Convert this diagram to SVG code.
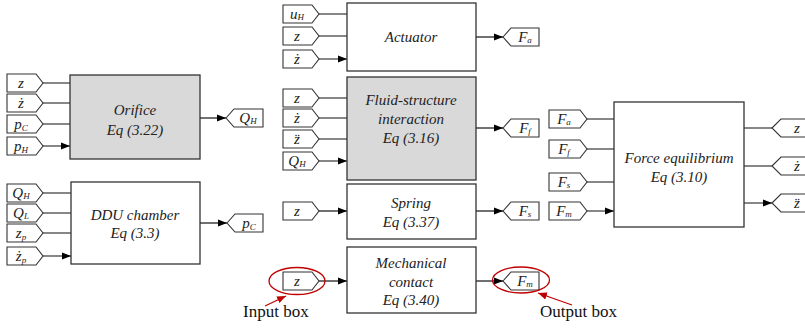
<svg xmlns="http://www.w3.org/2000/svg" width="805" height="328" viewBox="0 0 805 328">
<style>
.blk{fill:#fff;stroke:#333;stroke-width:1.3}
.gry{fill:#d9d9d9;stroke:#333;stroke-width:1.3}
.tag{fill:#fff;stroke:#333;stroke-width:1.1}
.ln{stroke:#111;stroke-width:1.2;fill:none;marker-end:url(#ah)}
.bt{font-family:"Liberation Serif",serif;font-style:italic;font-size:15px;fill:#222;text-anchor:middle}
.tt{font-family:"Liberation Serif",serif;font-style:italic;font-size:15px;fill:#222;text-anchor:middle}
.sb{font-size:9px}
.red{fill:none;stroke:#c00000;stroke-width:1.3}
.rl{stroke:#c00000;stroke-width:1.3;fill:none;marker-end:url(#rh)}
.an{font-family:"Liberation Serif",serif;font-size:17px;fill:#111}
</style>
<defs>
<marker id="ah" viewBox="0 0 10 10" refX="10" refY="5" markerWidth="9" markerHeight="9" markerUnits="userSpaceOnUse" orient="auto"><path d="M0,1 L10,5 L0,9 Z" fill="#000"/></marker>
<marker id="rh" viewBox="0 0 10 10" refX="10" refY="5" markerWidth="9" markerHeight="9" markerUnits="userSpaceOnUse" orient="auto"><path d="M0,1 L10,5 L0,9 Z" fill="#c00000"/></marker>
</defs>

<g id="connectors">
<path class="ln" d="M43,83H70M43,103H70M43,124H70M43,146H70"/>
<path class="ln" d="M200,118H226"/>
<path class="ln" d="M43,193H71M43,213H71M43,233H71M43,256H71"/>
<path class="ln" d="M200,223H227"/>
<path class="ln" d="M319,14H347M319,36H347M319,59H347"/>
<path class="ln" d="M476,37H503"/>
<path class="ln" d="M319,98H347M319,118H347M319,139H347M319,161H347"/>
<path class="ln" d="M476,128H503"/>
<path class="ln" d="M319,211H347"/>
<path class="ln" d="M476,211H503"/>
<path class="ln" d="M319,281H347"/>
<path class="ln" d="M476,281H503"/>
<path class="ln" d="M587,119H614M587,149H614M587,182H614M587,211H614"/>
<path class="ln" d="M744,128H772M744,166H772M744,203H772"/>
</g>

<g id="orifice">
<rect class="gry" x="70" y="75" width="130" height="84"/>
<text class="bt" x="135" y="115">Orifice</text>
<text class="bt" x="135" y="135">Eq (3.22)</text>
<path class="tag" d="M7,74H36L43,83L36,92H7Z"/><text class="tt" x="21" y="88">z</text>
<path class="tag" d="M7,94H36L43,103L36,112H7Z"/><text class="tt" x="21" y="108">ż</text>
<path class="tag" d="M7,115H36L43,124L36,133H7Z"/><text class="tt" x="21" y="129">p<tspan class="sb" dy="2">C</tspan></text>
<path class="tag" d="M7,137H36L43,146L36,155H7Z"/><text class="tt" x="21" y="151">p<tspan class="sb" dy="2">H</tspan></text>
<path class="tag" d="M226,118L234,109H263V127H234Z"/><text class="tt" x="248" y="123">Q<tspan class="sb" dy="1">H</tspan></text>
</g>

<g id="ddu">
<rect class="blk" x="71" y="182" width="129" height="82"/>
<text class="bt" x="135" y="220">DDU chamber</text>
<text class="bt" x="135" y="238">Eq (3.3)</text>
<path class="tag" d="M7,184H36L43,193L36,202H7Z"/><text class="tt" x="21" y="198">Q<tspan class="sb" dy="1">H</tspan></text>
<path class="tag" d="M7,204H36L43,213L36,222H7Z"/><text class="tt" x="21" y="218">Q<tspan class="sb" dy="1">L</tspan></text>
<path class="tag" d="M7,224H36L43,233L36,242H7Z"/><text class="tt" x="21" y="238">z<tspan class="sb" dy="2">p</tspan></text>
<path class="tag" d="M7,247H36L43,256L36,265H7Z"/><text class="tt" x="21" y="261">ż<tspan class="sb" dy="2">p</tspan></text>
<path class="tag" d="M227,223L235,214H263V232H235Z"/><text class="tt" x="249" y="228">p<tspan class="sb" dy="2">C</tspan></text>
</g>

<g id="actuator">
<rect class="blk" x="347" y="3" width="129" height="68"/>
<text class="bt" x="411" y="42">Actuator</text>
<path class="tag" d="M283,5H312L319,14L312,23H283Z"/><text class="tt" x="297" y="19">u<tspan class="sb" dy="1">H</tspan></text>
<path class="tag" d="M283,27H312L319,36L312,45H283Z"/><text class="tt" x="297" y="41">z</text>
<path class="tag" d="M283,50H312L319,59L312,68H283Z"/><text class="tt" x="297" y="64">ż</text>
<path class="tag" d="M503,37L511,28H539V46H511Z"/><text class="tt" x="525" y="42">F<tspan class="sb" dy="1">a</tspan></text>
</g>

<g id="fsi">
<rect class="gry" x="347" y="77" width="129" height="103"/>
<text class="bt" x="411" y="105">Fluid-structure</text>
<text class="bt" x="411" y="124">interaction</text>
<text class="bt" x="411" y="143">Eq (3.16)</text>
<path class="tag" d="M283,89H312L319,98L312,107H283Z"/><text class="tt" x="297" y="103">z</text>
<path class="tag" d="M283,109H312L319,118L312,127H283Z"/><text class="tt" x="297" y="123">ż</text>
<path class="tag" d="M283,130H312L319,139L312,148H283Z"/><text class="tt" x="297" y="144">z̈</text>
<path class="tag" d="M283,152H312L319,161L312,170H283Z"/><text class="tt" x="297" y="166">Q<tspan class="sb" dy="1">H</tspan></text>
<path class="tag" d="M503,128L511,119H539V137H511Z"/><text class="tt" x="525" y="133">F<tspan class="sb" dy="1">f</tspan></text>
</g>

<g id="spring">
<rect class="blk" x="347" y="184" width="129" height="55"/>
<text class="bt" x="411" y="208">Spring</text>
<text class="bt" x="411" y="227">Eq (3.37)</text>
<path class="tag" d="M283,202H312L319,211L312,220H283Z"/><text class="tt" x="297" y="216">z</text>
<path class="tag" d="M503,211L511,202H539V220H511Z"/><text class="tt" x="525" y="216">F<tspan class="sb" dy="1">s</tspan></text>
</g>

<g id="mechanical">
<rect class="blk" x="347" y="247" width="129" height="66"/>
<text class="bt" x="411" y="268">Mechanical</text>
<text class="bt" x="411" y="287">contact</text>
<text class="bt" x="411" y="305">Eq (3.40)</text>
<path class="tag" d="M283,272H312L319,281L312,290H283Z"/><text class="tt" x="297" y="286">z</text>
<path class="tag" d="M503,281L511,272H539V290H511Z"/><text class="tt" x="525" y="286">F<tspan class="sb" dy="1">m</tspan></text>
</g>

<g id="force">
<rect class="blk" x="614" y="102" width="130" height="125"/>
<text class="bt" x="679" y="163">Force equilibrium</text>
<text class="bt" x="679" y="182">Eq (3.10)</text>
<path class="tag" d="M549,110H580L587,119L580,128H549Z"/><text class="tt" x="564" y="124">F<tspan class="sb" dy="1">a</tspan></text>
<path class="tag" d="M549,140H580L587,149L580,158H549Z"/><text class="tt" x="564" y="154">F<tspan class="sb" dy="1">f</tspan></text>
<path class="tag" d="M549,173H580L587,182L580,191H549Z"/><text class="tt" x="564" y="187">F<tspan class="sb" dy="1">s</tspan></text>
<path class="tag" d="M549,202H580L587,211L580,220H549Z"/><text class="tt" x="564" y="216">F<tspan class="sb" dy="1">m</tspan></text>
<path class="tag" d="M772,128L781,119H812V137H781Z"/><text class="tt" x="797" y="133">z</text>
<path class="tag" d="M772,166L781,157H812V175H781Z"/><text class="tt" x="797" y="171">ż</text>
<path class="tag" d="M772,203L781,194H812V212H781Z"/><text class="tt" x="797" y="208">z̈</text>
</g>

<g id="annotations">
<ellipse class="red" cx="297" cy="281" rx="28" ry="13.5"/>
<ellipse class="red" cx="521" cy="280" rx="28.5" ry="13"/>
<path class="rl" d="M265,306L286,296"/>
<path class="rl" d="M572,305L538,293"/>
<text class="an" x="243" y="317">Input box</text>
<text class="an" x="540" y="317">Output box</text>
</g>
</svg>
